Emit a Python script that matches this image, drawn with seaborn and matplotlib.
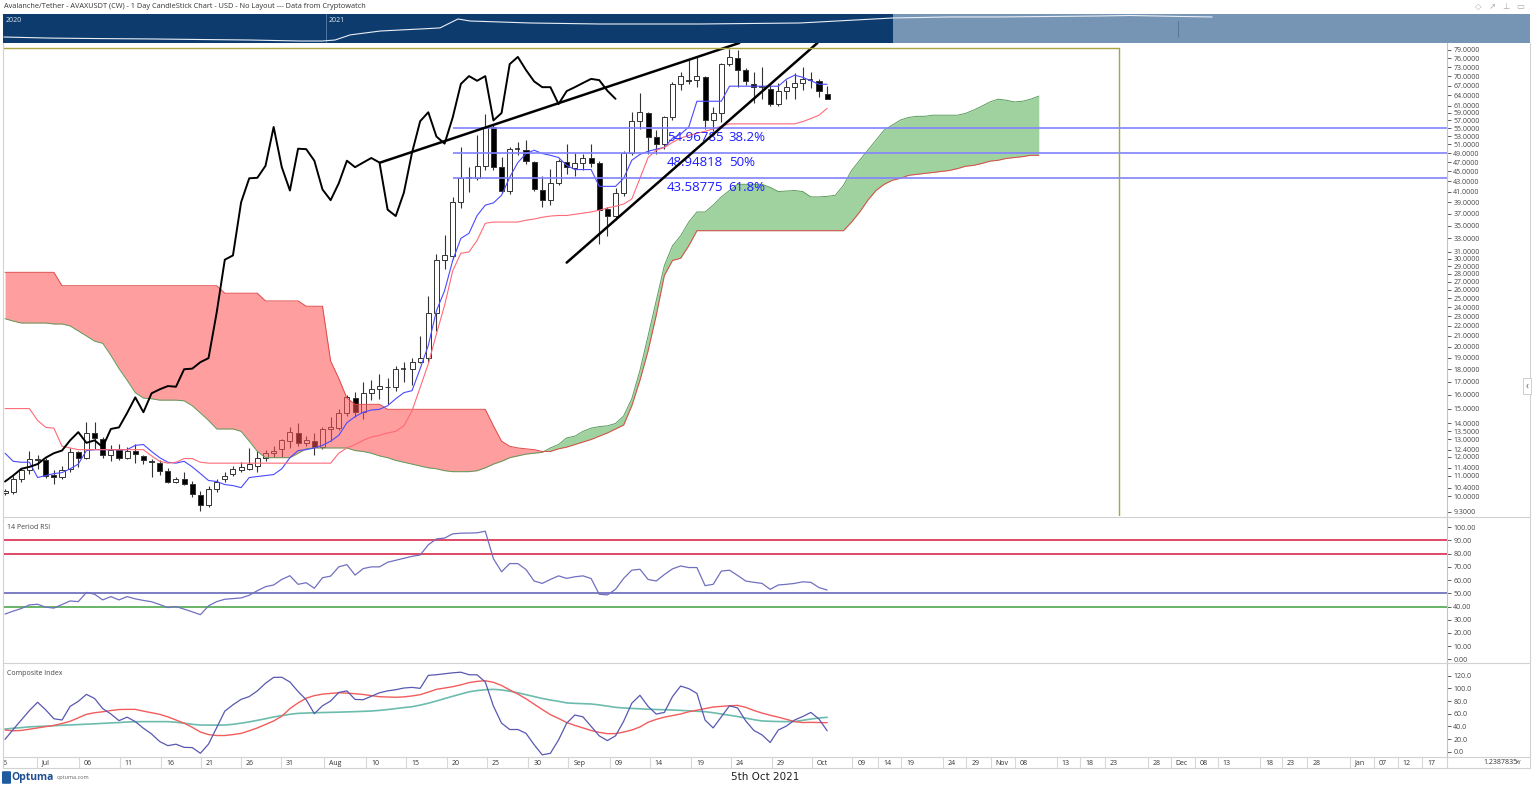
import matplotlib
matplotlib.use("Agg")

import numpy as np
import matplotlib.pyplot as plt
from matplotlib.lines import Line2D
from matplotlib.patches import FancyBboxPatch
from matplotlib.ticker import NullLocator
import seaborn as sns

# ---- daily AVAXUSDT bars (26 Jun .. 5 Oct 2021) ----
opens = [10.15, 10.2, 10.85, 11.3, 11.8, 11.8, 11.05, 10.95, 11.35, 12.25,
         11.95, 13.4, 13.0, 12.1, 12.4, 11.95, 12.35, 12.05, 11.75, 11.65,
         11.25, 10.7, 10.85, 10.6, 10.05, 9.6, 10.35, 10.85, 11.1, 11.3,
         11.35, 11.5, 11.95, 12.2, 12.45, 12.9, 13.4, 12.8, 12.9, 12.55,
         13.65, 13.7, 14.7, 15.75, 14.75, 16.1, 16.4, 16.55, 16.6, 18.0,
         18.0, 18.6, 18.95, 23.4, 29.9, 30.4, 39.0, 43.6, 43.7, 46.2,
         55.3, 45.9, 41.2, 50.0, 49.8, 47.0, 41.3, 39.4, 42.6, 47.0,
         45.7, 46.9, 47.8, 46.9, 37.9, 36.6, 40.8, 49.1, 56.8, 59.0,
         52.9, 51.2, 57.8, 67.5, 68.8, 68.9, 69.6, 57.0, 59.0, 74.0,
         76.2, 72.0, 67.5, 66.7, 66.0, 61.5, 65.3, 66.5, 67.8, 68.8,
         68.4, 64.5]
highs = [10.35, 11.0, 11.4, 12.3, 12.1, 11.95, 11.3, 11.5, 12.5, 12.35,
         14.1, 14.1, 13.15, 12.7, 12.75, 12.55, 12.75, 12.1, 11.85, 11.8,
         11.4, 10.95, 11.2, 10.75, 10.25, 10.5, 10.85, 11.2, 11.5, 11.7,
         12.5, 12.3, 12.4, 12.6, 13.0, 13.8, 14.0, 13.2, 13.4, 13.8,
         14.4, 15.0, 16.0, 16.2, 17.0, 17.1, 17.6, 17.3, 18.3, 18.6,
         19.0, 21.0, 25.3, 30.7, 33.5, 40.0, 50.3, 45.9, 53.2, 58.7,
         55.8, 48.2, 50.3, 51.5, 52.0, 47.3, 44.0, 45.5, 47.7, 51.2,
         49.0, 48.7, 51.2, 47.2, 38.2, 41.7, 49.5, 59.2, 64.7, 59.2,
         54.6, 58.3, 68.0, 71.3, 75.4, 76.8, 70.0, 60.8, 74.3, 79.5,
         79.0, 72.7, 71.5, 73.0, 67.3, 67.8, 68.7, 71.0, 73.0, 71.3,
         69.0, 66.9]
lows = [10.05, 10.1, 10.7, 11.1, 11.35, 10.9, 10.6, 10.85, 11.2, 11.45,
        11.9, 12.45, 11.95, 11.75, 11.8, 11.85, 11.65, 11.6, 10.95, 11.05,
        10.65, 10.65, 10.55, 9.95, 9.35, 9.5, 10.2, 10.7, 11.0, 11.2,
        11.3, 11.2, 11.75, 12.0, 12.0, 12.5, 12.6, 12.6, 12.1, 12.45,
        12.9, 13.6, 14.5, 14.4, 14.3, 15.6, 15.7, 15.3, 16.3, 17.0,
        16.7, 18.5, 18.6, 21.5, 28.7, 30.0, 38.0, 40.9, 43.3, 45.3,
        45.3, 40.7, 40.5, 48.5, 46.5, 41.2, 38.2, 38.6, 42.3, 44.5,
        44.0, 45.3, 45.9, 32.2, 33.4, 36.0, 40.2, 48.5, 54.9, 48.8,
        48.8, 50.0, 57.0, 65.6, 67.5, 66.7, 54.7, 54.4, 56.6, 73.5,
        66.5, 67.2, 61.8, 63.0, 61.0, 61.0, 63.0, 63.0, 65.5, 66.2,
        63.5, 62.9]
closes = [10.25, 10.85, 11.3, 11.85, 11.85, 11.0, 10.95, 11.3, 12.25, 11.95,
          13.4, 13.1, 12.1, 12.4, 11.95, 12.35, 12.15, 11.8, 11.7, 11.25,
          10.7, 10.85, 10.6, 10.1, 9.6, 10.35, 10.7, 11.0, 11.35, 11.45,
          11.6, 11.95, 12.2, 12.35, 12.95, 13.45, 12.8, 12.95, 12.55, 13.65,
          13.75, 14.7, 15.8, 14.75, 16.1, 16.4, 16.65, 16.6, 18.0, 18.05,
          18.6, 18.95, 23.4, 29.9, 30.5, 39.0, 43.6, 43.7, 46.2, 55.3,
          45.9, 41.2, 50.0, 49.9, 47.3, 41.4, 39.4, 42.6, 47.3, 45.9,
          46.9, 47.9, 46.9, 37.7, 36.6, 40.8, 49.1, 56.8, 59.2, 52.9,
          51.2, 57.8, 67.5, 70.0, 68.5, 70.0, 57.0, 59.0, 74.0, 76.5,
          72.0, 68.3, 66.5, 66.5, 61.5, 65.3, 66.5, 67.8, 69.1, 68.7,
          65.4, 63.0]

# ichimoku lines as drawn on the chart
tenkan = [12.2, 11.75, 11.7, 11.7, 10.9, 11.0, 11.1, 11.15, 11.35, 11.6,
          12.35, 12.4, 12.4, 12.4, 12.4, 12.4, 12.65, 12.7, 12.3, 11.95,
          11.7, 11.65, 11.75, 11.45, 11.1, 10.75, 10.7, 10.55, 10.5, 10.4,
          10.9, 10.95, 11.0, 11.05, 11.35, 11.95, 12.35, 12.4, 12.5, 12.65,
          12.9, 13.25, 14.05, 14.45, 14.75, 14.9, 14.95, 15.2, 15.7, 16.15,
          16.3, 18.05, 20.1, 23.6, 25.9, 29.8, 33.0, 33.8, 36.7, 38.5,
          38.9, 40.3, 43.8, 46.9, 48.9, 49.65, 48.9, 48.5, 48.0, 46.3,
          45.4, 45.4, 45.4, 42.0, 42.0, 42.0, 43.6, 47.4, 48.7, 49.4,
          49.9, 50.3, 52.5, 53.5, 55.3, 62.3, 62.3, 62.3, 62.3, 66.8,
          66.8, 66.8, 66.8, 66.8, 66.8, 66.8, 69.0, 70.3, 69.6, 68.5,
          67.4, 67.4]
kijun = [15.0, 15.0, 15.0, 15.0, 14.2, 13.75, 13.7, 12.6, 12.5, 12.4,
         12.4, 12.4, 12.4, 12.4, 12.4, 12.4, 12.4, 12.4, 12.05, 11.75,
         11.65, 11.7, 11.9, 11.9, 11.7, 11.65, 11.65, 11.65, 11.65, 11.65,
         11.65, 11.65, 11.65, 11.65, 11.65, 11.65, 11.65, 11.65, 11.65, 11.65,
         11.65, 12.2, 12.5, 12.7, 12.95, 13.15, 13.25, 13.4, 13.5, 13.85,
         14.85, 16.55, 18.45, 21.2, 24.2, 28.4, 30.8, 31.0, 32.7, 35.4,
         35.6, 35.6, 35.6, 35.6, 35.9, 36.1, 36.4, 36.6, 36.7, 36.7,
         36.9, 37.1, 37.3, 37.6, 38.0, 38.3, 38.7, 39.6, 43.6, 48.0,
         49.65, 50.3, 51.5, 52.5, 53.2, 53.7, 54.2, 54.8, 55.5, 56.1,
         56.1, 56.1, 56.1, 56.1, 56.1, 56.1, 56.1, 56.1, 56.7, 57.5,
         58.4, 60.3]
senkou_a = [22.75, 22.5, 22.3, 22.3, 22.3, 22.3, 22.2, 22.2, 22.0, 21.5,
            21.0, 20.5, 20.3, 19.2, 18.05, 17.1, 16.15, 15.75, 15.7, 15.6,
            15.6, 15.6, 15.55, 15.2, 14.7, 14.2, 13.65, 13.65, 13.65, 13.5,
            12.9, 12.3, 11.95, 11.95, 11.95, 11.95, 12.2, 12.45, 12.5, 12.5,
            12.5, 12.5, 12.5, 12.35, 12.3, 12.2, 12.05, 11.95, 11.8, 11.7,
            11.6, 11.5, 11.4, 11.35, 11.25, 11.2, 11.2, 11.2, 11.25, 11.4,
            11.6, 11.75, 11.95, 12.05, 12.15, 12.2, 12.25, 12.5, 12.7, 13.1,
            13.2, 13.5, 13.7, 13.8, 13.85, 14.0, 14.5, 15.7, 17.9, 21.0,
            24.7, 29.1, 31.9, 33.4, 35.6, 37.3, 37.3, 38.5, 40.0, 41.2,
            42.4, 42.4, 42.4, 42.4, 41.8, 41.0, 41.1, 41.2, 41.0, 40.0,
            40.0, 40.1, 40.3, 42.2, 45.2, 47.4, 49.65, 52.0, 54.5, 55.8,
            57.1, 57.8, 58.1, 58.1, 58.4, 58.4, 58.4, 58.4, 58.9, 59.8,
            60.9, 62.1, 62.9, 62.6, 62.1, 62.3, 62.9, 63.8]
senkou_b = [28.2, 28.2, 28.2, 28.2, 28.2, 28.2, 28.2, 26.5, 26.5, 26.5,
            26.5, 26.5, 26.5, 26.5, 26.5, 26.5, 26.5, 26.5, 26.5, 26.5,
            26.5, 26.5, 26.5, 26.5, 26.5, 26.5, 26.5, 25.6, 25.6, 25.6,
            25.6, 25.6, 24.7, 24.7, 24.7, 24.7, 24.7, 24.1, 24.1, 24.1,
            18.7, 17.25, 15.75, 15.3, 15.3, 15.3, 15.3, 14.95, 14.95, 14.95,
            14.95, 14.95, 14.95, 14.95, 14.95, 14.95, 14.95, 14.95, 14.95, 14.95,
            13.85, 12.9, 12.6, 12.5, 12.45, 12.4, 12.3, 12.3, 12.45, 12.55,
            12.7, 12.85, 13.0, 13.2, 13.4, 13.65, 13.9, 15.2, 17.1, 19.6,
            23.1, 27.8, 29.8, 30.1, 31.9, 34.2, 34.2, 34.2, 34.2, 34.2,
            34.2, 34.2, 34.2, 34.2, 34.2, 34.2, 34.2, 34.2, 34.2, 34.2,
            34.2, 34.2, 34.2, 34.2, 35.6, 37.3, 39.4, 41.2, 42.4, 43.2,
            43.6, 44.2, 44.4, 44.6, 44.8, 45.0, 45.2, 45.6, 46.1, 46.3,
            46.7, 47.2, 47.4, 47.8, 48.0, 48.2, 48.5, 48.5]

fib_levels = [54.96785, 48.94818, 43.58775]
fib_labels = ["54.96785", "48.94818", "43.58775"]
fib_pcts = ["38.2%", "50%", "61.8%"]

# hand-drawn wedge lines (day, price)
wedge_upper_days = [46.1, 90.2]
wedge_upper_prices = [46.9, 81.6]
wedge_lower_days = [69.0, 99.8]
wedge_lower_prices = [29.5, 81.6]

# 14 period RSI
rsi = [34.3, 36.5, 38.5, 41.2, 41.7, 39.5, 38.8, 41.5, 44.2, 43.7,
       50.7, 49.3, 45.0, 47.5, 45.0, 47.5, 45.8, 44.6, 43.6, 41.5,
       39.2, 40.0, 38.0, 36.0, 33.8, 40.5, 43.7, 45.5, 46.0, 46.5,
       48.5, 52.0, 55.0, 56.3, 60.5, 63.3, 56.8, 58.0, 53.8, 61.8,
       63.0, 70.0, 71.7, 63.8, 68.7, 70.0, 70.0, 73.5, 75.0, 76.5,
       78.0, 79.0, 86.7, 91.2, 91.8, 95.0, 95.5, 95.6, 95.8, 97.0,
       76.2, 66.3, 72.5, 72.5, 68.0, 59.3, 57.5, 60.5, 63.2, 61.3,
       62.5, 63.2, 61.2, 49.3, 48.8, 53.0, 61.3, 67.5, 68.2, 60.5,
       59.3, 64.2, 68.5, 70.7, 69.5, 69.5, 55.8, 56.8, 66.8, 67.5,
       63.5, 59.3, 58.3, 57.5, 53.0, 56.3, 56.8, 57.5, 58.7, 58.3,
       54.3, 52.5]
rsi_levels = [90, 80, 50, 40]

# composite index with its two averages
composite = [19.5, 35.0, 50.0, 65.0, 78.0, 66.0, 52.0, 50.0, 71.5, 79.5,
             90.5, 84.0, 68.0, 59.5, 49.0, 54.5, 47.5, 37.0, 28.0, 16.0,
             9.5, 11.8, 6.8, 6.5, -2.5, 12.0, 38.0, 64.0, 74.0, 82.6,
             87.0, 96.0, 108.0, 117.3, 117.5, 110.0, 95.0, 82.0, 60.0, 72.5,
             80.0, 93.5, 96.0, 82.5, 82.0, 87.5, 93.0, 96.0, 97.8, 100.5,
             101.5, 100.0, 120.5, 121.5, 123.0, 124.5, 125.5, 121.5, 121.3, 110.0,
             72.0, 45.0, 35.0, 35.0, 29.0, 11.0, -5.0, -2.5, 18.5, 45.0,
             57.9, 55.0, 40.0, 25.0, 17.5, 25.0, 48.0, 76.5, 89.0, 71.5,
             59.4, 62.0, 87.0, 103.6, 99.5, 92.0, 50.0, 37.5, 55.0, 72.5,
             69.0, 48.5, 33.5, 26.5, 14.5, 34.2, 40.5, 50.0, 55.5, 62.0,
             51.5, 33.0]
comp_fast = [34.2, 33.0, 33.5, 35.5, 37.5, 39.5, 41.5, 44.5, 48.0, 53.5,
             59.0, 61.5, 63.0, 65.0, 66.5, 66.8, 66.8, 64.0, 61.5, 59.0,
             55.0, 50.0, 45.0, 38.5, 31.0, 27.0, 25.5, 25.5, 27.0, 28.9,
             33.0, 37.5, 43.0, 48.5, 56.0, 68.0, 77.0, 84.5, 88.5, 90.8,
             92.0, 93.0, 92.5, 91.5, 90.3, 88.5, 86.8, 86.3, 85.9, 86.5,
             88.0, 90.0, 94.0, 98.4, 100.5, 102.6, 105.5, 109.0, 111.0, 112.0,
             109.5, 104.5, 97.5, 91.0, 83.5, 75.0, 66.5, 58.5, 52.5, 46.0,
             41.5, 37.5, 33.5, 30.5, 28.5, 28.5, 31.0, 34.2, 39.0, 46.5,
             51.0, 54.5, 57.0, 59.5, 63.0, 65.5, 68.0, 70.5, 71.5, 72.5,
             73.1, 70.0, 65.0, 61.0, 57.5, 54.5, 51.0, 47.5, 46.0, 46.3,
             46.0, 45.8]
comp_slow = [35.8, 37.0, 38.0, 39.2, 39.8, 40.4, 41.0, 41.7, 42.2, 42.8,
             43.4, 44.0, 44.7, 45.4, 46.0, 46.8, 47.3, 47.4, 47.4, 47.4,
             47.4, 46.5, 45.0, 43.2, 42.1, 42.0, 42.0, 42.1, 43.2, 45.0,
             47.0, 49.5, 52.0, 54.8, 57.0, 59.0, 60.5, 61.0, 61.5, 61.8,
             62.1, 62.4, 62.8, 63.2, 63.7, 64.2, 65.2, 66.5, 68.0, 69.6,
             71.0, 73.5, 76.5, 80.0, 83.8, 87.5, 91.0, 94.5, 96.5, 97.8,
             98.4, 97.5, 95.5, 93.0, 90.0, 87.0, 84.0, 81.5, 79.5, 77.0,
             76.3, 75.8, 75.3, 73.8, 72.0, 70.0, 69.0, 68.3, 67.7, 67.0,
             66.6, 66.2, 65.8, 65.2, 64.5, 63.8, 63.1, 61.5, 59.5, 57.5,
             55.5, 53.0, 50.5, 48.5, 48.0, 47.6, 47.4, 47.6, 49.5, 51.5,
             53.2, 54.2]

# navigator overview (days since 22 Sep 2020, price)
nav_days = [0, 14.3, 29.8, 45.3, 60.9, 76.4, 91.9, 98.8, 102.8, 107.5,
            112.1, 116.8, 123.0, 129.2, 135.4, 139.1, 141.0, 144.7, 154.0, 163.4,
            185.1, 216.1, 247.2, 276.1, 293.8, 309.3, 340.4, 349.7, 365.2, 375.2]
nav_price = [5.5, 4.8, 4.5, 4.3, 4.0, 3.75, 3.3, 3.3, 3.75, 7.2,
             9.2, 11.8, 13.5, 15.3, 17.6, 37.5, 55.0, 42.6, 37.5, 33.0,
             29.0, 29.0, 33.0, 62.7, 71.3, 71.3, 80.7, 86.0, 76.0, 71.3]

price_ticks = [79, 76, 73, 70, 67, 64, 61, 59, 57, 55, 53, 51, 49, 47, 45, 43, 41,
               39, 37, 35, 33, 31, 30, 29, 28, 27, 26, 25, 24, 23, 22, 21, 20, 19,
               18, 17, 16, 15, 14, 13.5, 13, 12.4, 12, 11.4, 11, 10.4, 10, 9.3]
date_ticks = [-0.9, 3.9, 9.1, 14.1, 19.2, 24.1, 29.0, 33.9, 39.2, 44.4, 49.3, 54.3,
              59.2, 64.3, 69.2, 74.3, 79.2, 84.3, 89.2, 94.2, 99.1, 104.1, 107.3,
              110.1, 115.2, 118.1, 121.1, 124.1, 129.2, 132.1, 135.1, 140.4, 143.2,
              146.2, 149.0, 154.2, 156.9, 160.0, 165.2, 168.2, 171.1, 174.1]
date_labels = ["6", "Jul", "06", "11", "16", "21", "26", "31", "Aug", "10", "15", "20",
               "25", "30", "Sep", "09", "14", "19", "24", "29", "Oct", "09", "14",
               "19", "24", "29", "Nov", "08", "13", "18", "23", "28", "Dec",
               "08", "13", "18", "23", "28", "Jan", "07", "12", "17"]

# ---- layout helpers ----
W, H = 1536, 788
XMIN, XMAX = -0.25, 177.15
BOX_DAY, BOX_PRICE = 136.9, 79.9


def frame(x0, y0, x1, y1):
    # pixel box (top-left origin) -> figure rect
    return [x0 / W, 1 - y1 / H, (x1 - x0) / W, (y1 - y0) / H]


def clean(ax):
    for side in ["top", "left", "bottom"]:
        ax.spines[side].set_visible(False)
    ax.spines["right"].set_color("#c4c4c4")
    ax.spines["right"].set_linewidth(0.8)
    ax.set_xticks([])
    ax.yaxis.tick_right()
    ax.tick_params(axis="y", labelsize=5, length=3, width=0.6, colors="#444444", pad=1.5)
    ax.set_xlabel("")
    ax.set_ylabel("")


sns.set_theme(style="white")
plt.rcParams["font.family"] = ["Open Sans", "DejaVu Sans"]

fig = plt.figure(figsize=(W / 100, H / 100), dpi=100)
fig.patch.set_facecolor("white")

days = np.arange(len(closes))
cloud_days = np.arange(len(senkou_a))
span_a = np.array(senkou_a)
span_b = np.array(senkou_b)

# ---- main price panel ----
ax = fig.add_axes(frame(3, 43, 1447, 516))
ax.set_yscale("log")

for d, o, h, l, c in zip(days, opens, highs, lows, closes):
    ax.vlines(d, l, h, color="#333333", lw=0.8, zorder=2)
    lo, hi = min(o, c), max(o, c)
    if hi - lo < 0.003 * hi:
        ax.hlines(c, d - 0.32, d + 0.32, color="#222222", lw=1.1, zorder=3)
    else:
        ax.bar(d, hi - lo, bottom=lo, width=0.62,
               color="white" if c >= o else "black",
               edgecolor="#333333", linewidth=0.7, zorder=3)

# kumo drawn over the bars (translucent)
ax.fill_between(cloud_days, span_a, span_b, where=span_b >= span_a, interpolate=True,
                color=(1.0, 0.31, 0.31), alpha=0.55, lw=0, zorder=4)
ax.fill_between(cloud_days, span_a, span_b, where=span_a >= span_b, interpolate=True,
                color=(0.32, 0.68, 0.32), alpha=0.55, lw=0, zorder=4)
sns.lineplot(x=cloud_days, y=span_a, ax=ax, color="#5c9c5c", lw=0.7, zorder=5)
sns.lineplot(x=cloud_days, y=span_b, ax=ax, color="#e04848", lw=0.7, zorder=5)

sns.lineplot(x=days, y=tenkan, ax=ax, color="#4a4aff", lw=0.8, zorder=6)
sns.lineplot(x=days, y=kijun, ax=ax, color="#ff6a78", lw=0.8, zorder=6)

# lagging span = closes shifted back 26 bars
sns.lineplot(x=days[:-26], y=closes[26:], ax=ax, color="black", lw=1.4, zorder=7)

# fibonacci retracement
ax.hlines(fib_levels, 55, XMAX, color="#8282ff", lw=1.2, zorder=6)
for lvl, txt, pct in zip(fib_levels, fib_labels, fib_pcts):
    ax.annotate(txt, (81.3, lvl), xytext=(0, -2), textcoords="offset points",
                ha="left", va="top", fontsize=9.5, color="#1c1cff", zorder=8)
    ax.annotate(pct, (88.9, lvl), xytext=(0, -2), textcoords="offset points",
                ha="left", va="top", fontsize=9.5, color="#1c1cff", zorder=8)

# rising wedge
ax.plot(wedge_upper_days, wedge_upper_prices, color="black", lw=1.8, zorder=8)
ax.plot(wedge_lower_days, wedge_lower_prices, color="black", lw=1.8, zorder=8)

# olive box drawn on the chart
ax.plot([XMIN, BOX_DAY], [BOX_PRICE, BOX_PRICE], color="#a9a445", lw=1.0, zorder=8)
ax.plot([BOX_DAY, BOX_DAY], [1, BOX_PRICE], color="#a9a445", lw=1.0, zorder=8)

ax.set_xlim(XMIN, XMAX)
ax.set_ylim(9.12, 81.6)
ax.yaxis.set_minor_locator(NullLocator())
ax.set_yticks(price_ticks)
ax.set_yticklabels([f"{v:.4f}" for v in price_ticks])
clean(ax)
ax.yaxis.set_minor_locator(NullLocator())

# ---- RSI panel ----
ax_rsi = fig.add_axes(frame(3, 518, 1447, 662))
lvl_colors = ["#d6173f", "#d6173f", "#5a5ab4", "#3ea03e"]
for lvl, col in zip(rsi_levels, lvl_colors):
    ax_rsi.axhline(lvl, color=col, lw=1.1, zorder=2)
sns.lineplot(x=days, y=rsi, ax=ax_rsi, color="#7070c0", lw=0.9, zorder=3)
ax_rsi.set_xlim(XMIN, XMAX)
ax_rsi.set_ylim(-2, 107)
ax_rsi.set_yticks(range(0, 101, 10))
ax_rsi.set_yticklabels([f"{v:.2f}" for v in range(0, 101, 10)])
clean(ax_rsi)
ax_rsi.text(0.003, 0.955, "14 Period RSI", transform=ax_rsi.transAxes,
            fontsize=5, color="#444444", va="top")

# ---- composite index panel ----
ax_ci = fig.add_axes(frame(3, 663, 1447, 757))
sns.lineplot(x=days, y=comp_slow, ax=ax_ci, color="#6cbcae", lw=1.2, zorder=2)
sns.lineplot(x=days, y=comp_fast, ax=ax_ci, color="#f25c5c", lw=1.0, zorder=3)
sns.lineplot(x=days, y=composite, ax=ax_ci, color="#5858b0", lw=0.9, zorder=4)
ax_ci.set_xlim(XMIN, XMAX)
ax_ci.set_ylim(-8.4, 140)
ax_ci.set_yticks(range(0, 121, 20))
ax_ci.set_yticklabels([f"{v:.1f}" for v in range(0, 121, 20)])
clean(ax_ci)
ax_ci.text(0.003, 0.93, "Composite Index", transform=ax_ci.transAxes,
           fontsize=5, color="#444444", va="top")

# ---- date strip ----
ax_d = fig.add_axes(frame(3, 757, 1447, 768))
ax_d.set_xlim(XMIN, XMAX)
ax_d.set_ylim(0, 1)
ax_d.axis("off")
ax_d.vlines(date_ticks, 0, 1, color="#d8d8d8", lw=0.8)
for t, lab in zip(date_ticks, date_labels):
    ax_d.text(t + 0.6, 0.45, lab, fontsize=5, color="#333333", ha="left", va="center")

# ---- navigator ----
ax_n = fig.add_axes(frame(3, 14, 1530, 43))
ax_n.set_facecolor("#7694b4")
ax_n.axvspan(-1, 276.1, color="#0e3b6d", lw=0, zorder=0)
ax_n.axvline(100, color="#5b7fab", lw=0.6, zorder=1)
ax_n.axvline(364.6, ymin=0.2, ymax=0.75, color="#4f6f95", lw=0.6, zorder=1)
sns.lineplot(x=nav_days, y=nav_price, ax=ax_n, color="#e8eef6", lw=0.8, zorder=2)
ax_n.set_yscale("log")
ax_n.set_ylim(2.56, 104)
ax_n.set_xlim(-0.31, 473.9)
ax_n.set_xticks([])
ax_n.set_yticks([])
ax_n.yaxis.set_minor_locator(NullLocator())
ax_n.set_xlabel("")
ax_n.set_ylabel("")
for s in ax_n.spines.values():
    s.set_visible(False)
ax_n.text(0.6, 0.9, "2020", fontsize=5, color="#dfe6ef", va="top", transform=ax_n.get_xaxis_transform())
ax_n.text(100.8, 0.9, "2021", fontsize=5, color="#dfe6ef", va="top", transform=ax_n.get_xaxis_transform())

# ---- frame lines ----
grey = "#d2d2d2"
for y in [517, 662.5, 757, 768]:
    fig.add_artist(Line2D([3 / W, 1530 / W], [1 - y / H, 1 - y / H], color=grey, lw=0.8))
for x in [3, 1530]:
    fig.add_artist(Line2D([x / W, x / W], [1 - 43 / H, 1 - 768 / H], color=grey, lw=0.8))
fig.add_artist(Line2D([1447 / W, 1447 / W], [1 - 757 / H, 1 - 768 / H], color=grey, lw=0.8))

# ---- texts around the chart ----
fig.text(4 / W, 1 - 6.5 / H,
         "Avalanche/Tether - AVAXUSDT (CW) - 1 Day CandleStick Chart - USD - No Layout --- Data from Cryptowatch",
         fontsize=5.3, color="#333333", va="center", ha="left")
for gx, glyph in zip([1478, 1492, 1506, 1520], ["◇", "↗", "⊥", "▭"]):
    fig.text(gx / W, 1 - 6.5 / H, glyph, fontsize=6, color="#a8a8a8",
             va="center", ha="center", family=["DejaVu Sans"])

fig.text(1527 / W, 1 - 386 / H, "‹", fontsize=7, color="#555555", ha="center", va="center",
         bbox=dict(boxstyle="square,pad=0.25", fc="white", ec="#c8c8c8", lw=0.6))
fig.text(1483 / W, 1 - 762.5 / H, "1.2387835", fontsize=5, color="#333333", va="center")
fig.text(1516 / W, 1 - 762.5 / H, "XY", fontsize=3.5, color="#333333", va="center")

fig.add_artist(FancyBboxPatch((3.5 / W, 1 - 783 / H), 6 / W, 11 / H,
                              boxstyle="round,pad=0.001", fc="#1d5a9e", ec="none",
                              transform=fig.transFigure))
fig.text(11 / W, 1 - 777.5 / H, "Optuma", fontsize=7.5, fontweight="bold",
         color="#1d4f91", va="center")
fig.text(57 / W, 1 - 778 / H, "optuma.com", fontsize=4, color="#666666", va="center")
fig.text(765 / W, 1 - 777.5 / H, "5th Oct 2021", fontsize=7.5, color="#222222",
         ha="center", va="center", family=["Liberation Sans Narrow", "DejaVu Sans"])

fig.savefig("out.png", dpi=100, facecolor="white")
plt.close(fig)
